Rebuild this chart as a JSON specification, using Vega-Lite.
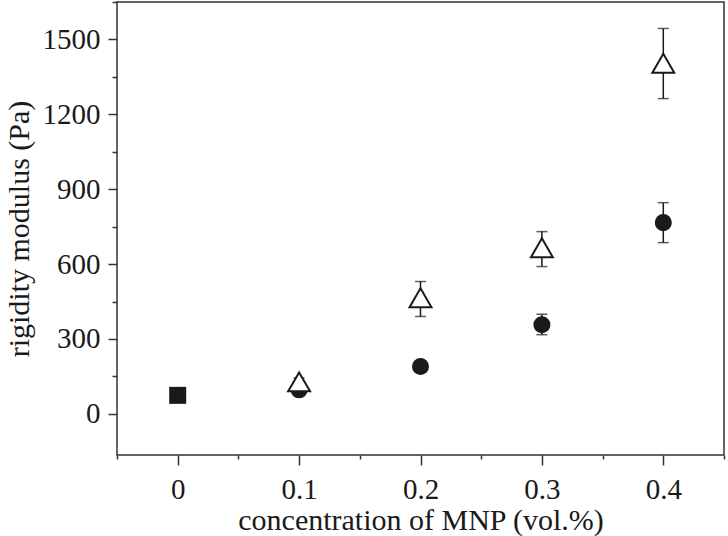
{
  "$schema": "https://vega.github.io/schema/vega-lite/v6.json",
  "width": 607,
  "height": 453,
  "autosize": {"type": "none"},
  "padding": {"left": 117, "top": 2, "right": 4, "bottom": 81},
  "background": "white",
  "config": {
    "font": "Liberation Serif",
    "view": {"stroke": "#333", "strokeWidth": 1.5},
    "axis": {"grid": false, "domain": false, "tickColor": "#333", "tickWidth": 1.5, "labelFont": "Liberation Serif", "titleFont": "Liberation Serif", "labelFontSize": 29, "titleFontSize": 30, "labelColor": "#1a1a1a", "titleColor": "#1a1a1a", "titleFontWeight": "normal"}
  },
  "data": {"values": [
    {"conc": 0, "value": 74, "lo": 74, "hi": 74, "series": "pure"},
    {"conc": 0.1, "value": 96, "lo": 96, "hi": 96, "series": "circle"},
    {"conc": 0.2, "value": 190, "lo": 190, "hi": 190, "series": "circle"},
    {"conc": 0.3, "value": 357, "lo": 317, "hi": 399, "series": "circle"},
    {"conc": 0.4, "value": 766, "lo": 686, "hi": 846, "series": "circle"},
    {"conc": 0.1, "value": 128, "lo": 112, "hi": 144, "series": "triangle"},
    {"conc": 0.2, "value": 465, "lo": 390, "hi": 530, "series": "triangle"},
    {"conc": 0.3, "value": 665, "lo": 590, "hi": 730, "series": "triangle"},
    {"conc": 0.4, "value": 1405, "lo": 1263, "hi": 1544, "series": "triangle"}
  ]},
  "encoding": {
    "x": {"field": "conc", "type": "quantitative", "scale": {"domain": [-0.05, 0.45], "nice": false, "zero": false}, "axis": null}
  },
  "layer": [
    {
      "mark": {"type": "rule", "color": "#1a1a1a", "strokeWidth": 1.5},
      "transform": [{"filter": "datum.hi > datum.lo"}],
      "encoding": {
        "x": {"field": "conc", "type": "quantitative", "scale": {"domain": [-0.05, 0.45], "nice": false, "zero": false}, "axis": {"title": "concentration of MNP (vol.%)", "values": [0, 0.1, 0.2, 0.3, 0.4], "format": "~g", "tickSize": 10, "labelPadding": 10, "titlePadding": 1}},
        "y": {"field": "lo", "type": "quantitative", "scale": {"domain": [-165, 1650], "nice": false, "zero": false}, "axis": {"title": "rigidity modulus (Pa)", "values": [0, 300, 600, 900, 1200, 1500], "format": "d", "tickSize": 9, "labelPadding": 8, "titlePadding": 8}},
        "y2": {"field": "hi"}
      }
    },
    {
      "mark": {"type": "tick", "orient": "horizontal", "color": "#1a1a1a", "size": 11, "thickness": 1.5},
      "transform": [{"filter": "datum.hi > datum.lo"}],
      "encoding": {
        "x": {"field": "conc", "type": "quantitative", "axis": {"title": null, "values": [-0.05, 0.05, 0.15, 0.25, 0.35, 0.45], "labels": false, "tickSize": 4, "orient": "bottom"}},
        "y": {"field": "lo", "type": "quantitative", "axis": {"title": null, "values": [150, 450, 750, 1050, 1350, 1650], "labels": false, "tickSize": 5, "orient": "left"}}
      }
    },
    {
      "mark": {"type": "tick", "orient": "horizontal", "color": "#1a1a1a", "size": 11, "thickness": 1.5},
      "transform": [{"filter": "datum.hi > datum.lo"}],
      "encoding": {
        "y": {"field": "hi", "type": "quantitative", "axis": null}
      }
    },
    {
      "mark": {"type": "point", "filled": true, "color": "#1a1a1a", "opacity": 1},
      "transform": [{"filter": "datum.series != 'triangle'"}],
      "encoding": {
        "y": {"field": "value", "type": "quantitative", "axis": null},
        "shape": {"field": "series", "type": "nominal", "scale": {"domain": ["pure", "circle"], "range": ["square", "circle"]}, "legend": null},
        "size": {"field": "series", "type": "nominal", "scale": {"domain": ["pure", "circle"], "range": [289, 290]}, "legend": null}
      }
    },
    {
      "mark": {"type": "point", "shape": "triangle-up", "size": 480, "filled": false, "fill": "white", "fillOpacity": 1, "stroke": "#1a1a1a", "strokeWidth": 2, "opacity": 1},
      "transform": [{"filter": "datum.series == 'triangle'"}],
      "encoding": {
        "y": {"field": "value", "type": "quantitative", "axis": null}
      }
    }
  ],
  "resolve": {"axis": {"x": "independent", "y": "independent"}}
}
